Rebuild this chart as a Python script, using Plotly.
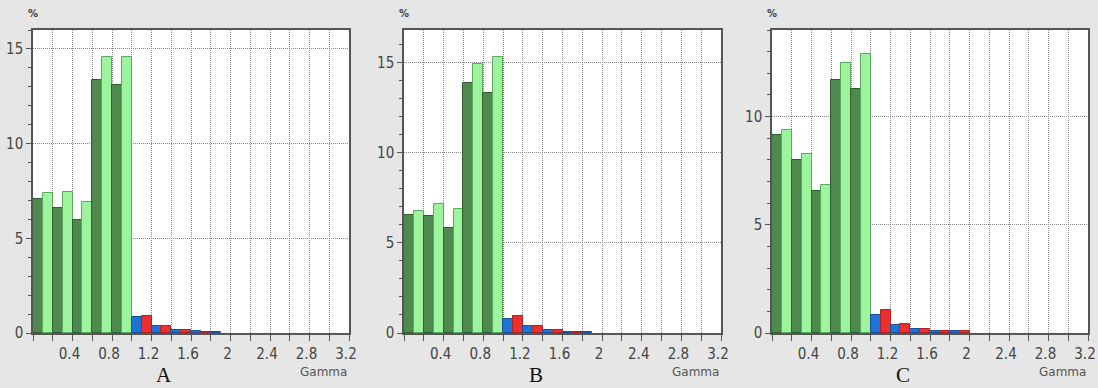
import plotly.graph_objects as go

# ---- data ----
gamma_bins = [0.0, 0.1, 0.2, 0.3, 0.4, 0.5, 0.6, 0.7, 0.8, 0.9,
              1.0, 1.1, 1.2, 1.3, 1.4, 1.5, 1.6, 1.7, 1.8, 1.9]
panel_labels = ["A", "B", "C"]
values_A = [7.05, 7.40, 6.58, 7.42, 5.96, 6.93, 13.37, 14.56, 13.09, 14.56,
            0.82, 0.91, 0.35, 0.35, 0.15, 0.15, 0.08, 0.06, 0.05]
values_B = [6.55, 6.79, 6.49, 7.16, 5.81, 6.86, 13.84, 14.94, 13.32, 15.31,
            0.77, 0.96, 0.37, 0.37, 0.15, 0.15, 0.08, 0.07, 0.06]
values_C = [9.16, 9.39, 8.00, 8.28, 6.55, 6.83, 11.69, 12.47, 11.29, 12.89,
            0.85, 1.04, 0.36, 0.43, 0.19, 0.20, 0.07, 0.07, 0.07, 0.07]
y_max = [16.0, 16.8, 14.0]
x_tickvals = [0.0, 0.2, 0.4, 0.6, 0.8, 1.0, 1.2, 1.4, 1.6, 1.8, 2.0,
              2.2, 2.4, 2.6, 2.8, 3.0, 3.2]
x_ticktext = ["", "", "0.4", "", "0.8", "", "1.2", "", "1.6", "", "2",
              "", "2.4", "", "2.8", "", "3.2"]
y_tickvals = [0, 5, 10, 15]
y_ticktext = ["0", "5", "10", "15"]

# ---- style ----
BG = "#e6e6e6"
DARK_G, LIGHT_G, BLUE, RED = "#4e8a4e", "#9cf49c", "#1f72d6", "#ec2f2f"
AX = "#555555"
GRID = "#8a8a8a"
W, H = 1098, 388
domains_px = [(33, 349), (404, 721), (772, 1088)]
y_bottom_px, y_top_px = 333, 30


def bar_colors(n):
    cols, lines = [], []
    for i in range(n):
        if i < 10:
            cols.append(DARK_G if i % 2 == 0 else LIGHT_G)
            lines.append("#2f5f2f" if i % 2 == 0 else "#5fa85f")
        else:
            cols.append(BLUE if i % 2 == 0 else RED)
            lines.append("#1a4f9a" if i % 2 == 0 else "#b02020")
    return cols, lines


fig = go.Figure()
all_vals = [values_A, values_B, values_C]
for k, vals in enumerate(all_vals):
    xs = gamma_bins[:len(vals)]
    cols, lines = bar_colors(len(vals))
    sfx = "" if k == 0 else str(k + 1)
    fig.add_trace(go.Bar(
        x=xs, y=vals, width=0.1, offset=0,
        marker=dict(color=cols, line=dict(color=lines, width=1)),
        xaxis="x" + sfx, yaxis="y" + sfx, showlegend=False,
    ))
    x0, x1 = domains_px[k]
    common = dict(showline=True, linecolor=AX, linewidth=1.5, mirror=True,
                  ticks="outside", tickcolor=AX, zeroline=False, automargin=False,
                  ticklabeloverflow="allow",
                  showgrid=True, gridcolor=GRID, griddash="1px,1px", gridwidth=1,
                  tickfont=dict(family="Liberation Sans Narrow, DejaVu Sans Condensed, Arial Narrow, sans-serif",
                                size=15, color="#444444"))
    fig.update_layout(**{
        "xaxis" + sfx: dict(common, domain=[x0 / W, x1 / W], range=[0, 3.2],
                            tickvals=x_tickvals, ticktext=x_ticktext, ticklen=6,
                            ticklabelshift=-3, anchor="y" + sfx),
        "yaxis" + sfx: dict(common, domain=[1 - y_bottom_px / H, 1 - y_top_px / H],
                            range=[0, y_max[k]], tickvals=y_tickvals,
                            ticktext=y_ticktext, ticklen=5,
                            minor=dict(dtick=1, tick0=0, ticks="outside", ticklen=3,
                                       tickcolor=AX, showgrid=False),
                            anchor="x" + sfx),
    })
    fig.add_annotation(x=x0 / W, y=1 - 14 / H, xref="paper", yref="paper",
                       text="<b>%</b>", showarrow=False, xanchor="center", yanchor="middle",
                       font=dict(family="DejaVu Sans", size=10, color="#444444"))
    fig.add_annotation(x=x1 / W, y=1 - 372 / H, xref="paper", yref="paper",
                       text="Gamma", showarrow=False, xanchor="right", yanchor="middle",
                       font=dict(family="DejaVu Sans", size=12, color="#555555"))
    fig.add_annotation(x=(x0 + 0.415 * (x1 - x0)) / W, y=1 - 375 / H,
                       xref="paper", yref="paper",
                       text=panel_labels[k], showarrow=False, xanchor="center",
                       yanchor="middle",
                       font=dict(family="Liberation Serif", size=21, color="#111111"))

fig.update_layout(width=W, height=H,
                  margin=dict(l=0, r=0, t=0, b=0, pad=0, autoexpand=False),
                  paper_bgcolor=BG, plot_bgcolor="white", bargap=0)
fig.write_html("out.html",
               config={"displayModeBar": False},
               post_script="document.documentElement.style.margin='0px';"
                           "document.documentElement.style.overflow='hidden';"
                           "document.body.style.margin='0px';"
                           "document.body.style.overflow='hidden';"
                           "document.body.style.background='%s';" % BG)
